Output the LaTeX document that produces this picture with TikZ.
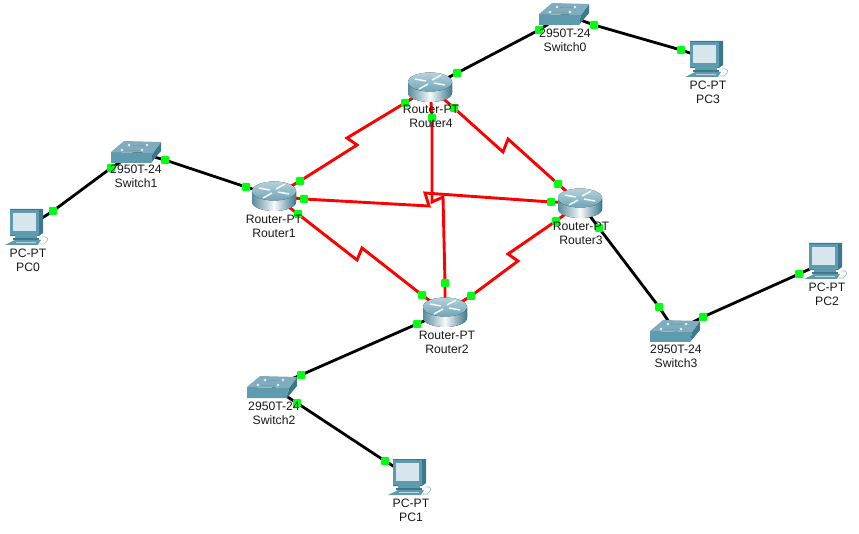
\documentclass[tikz,border=0pt]{standalone}
\usepackage{fontspec}
\setmainfont{Liberation Sans}
\usetikzlibrary{positioning, backgrounds}
\definecolor{portgreen}{RGB}{0,255,20}
\definecolor{tealdark}{RGB}{60,120,140}
\definecolor{tealmid}{RGB}{95,155,175}
\definecolor{teallight}{RGB}{150,190,205}
\definecolor{screenbg}{RGB}{215,230,236}
\tikzset{ 
	device/.style={inner sep=0, minimum size=0},
	port/.style={rectangle, rounded corners=1pt, inner sep=0, minimum size=8pt, fill=portgreen},
	wan/.style={draw=red, line width=2.9pt, line join=miter},
	lan/.style={draw=black, line width=2.8pt},
	title/.style={inner sep=0, font=\fontsize{12.2}{14}\selectfont, text=black!90, text height=9pt, text depth=2.5pt},
	router/.pic={
		\fill[left color=tealdark!85, right color=tealdark, middle color=white!95!tealmid]
			(-22,-5) -- (-22,6) arc[start angle=180, end angle=0, x radius=22, y radius=9] -- (22,-5) -- cycle;
		\fill[top color=teallight!70, bottom color=tealmid!90] (0,-5) ellipse[x radius=22, y radius=9.5];
		\draw[white!90!teallight, line width=1.5pt] (-15,-8) -- (-4,-6) (15,-2) -- (4,-4);
		\draw[white!90!teallight, line width=1.5pt] (11,-12) -- (2,-7) (-11,2) -- (-2,-3);
	},
	switch/.pic={
		\fill[tealmid] (-25,0) -- (17,1) -- (15,11) -- (-25,11) -- cycle;
		\fill[tealdark] (17,1) -- (25,-10) -- (25,-1) -- (15,11) -- cycle;
		\fill[teallight!75!tealdark] (-25,0) -- (-12,-11) -- (25,-10) -- (17,1) -- cycle;
		\fill[white!80!teallight] (-7,-7) circle[radius=1.3] (-14,-2) circle[radius=1.3] (11,-7) circle[radius=1.3] (6,-2) circle[radius=1.3];
		\draw[tealdark!70, line width=0.5pt] (-5,-7) -- (9,-7) (-12,-2) -- (4,-2);
	},
	pc/.pic={
		\fill[tealdark] (-18,-18) -- (15,-18) -- (15,6) -- (11,9) -- (-18,9) -- cycle;
		\fill[tealmid] (-18,-17) rectangle (11,8);
		\fill[screenbg] (-15,-14) rectangle (8,4);
		\fill[tealmid] (-13,8) rectangle (9,11);
		\fill[tealdark] (-15,11) rectangle (11,13);
		\fill[tealmid] (-13,13) -- (13,13) -- (10,18) -- (-23,18) -- cycle;
		\draw[white!60!tealmid, line width=0.5pt] (-12,15) -- (8,15);
		\draw[teallight, line width=0.7pt] (14,10) .. controls (18,9) and (21,11) .. (19,14) -- (16,17) -- (12,17);
	}
}
\begin{document}
\begin{tikzpicture}[x=1pt, y=-1pt]
	\useasboundingbox (0,0) rectangle (859,534);
	
	\node [device] (r1) at (274,196) {};
	\node [device] (r2) at (445,312) {};
	\node [device] (r3) at (580,203) {};
	\node [device] (r4) at (430,87) {};
	\node [device] (s0) at (564,14) {};
	\node [device] (s1) at (136,152) {};
	\node [device] (s2) at (272,387) {};
	\node [device] (s3) at (675,331) {};
	\node [device] (p0) at (28,227) {};
	\node [device] (p1) at (411,477) {};
	\node [device] (p2) at (827,261) {};
	\node [device] (p3) at (708,59) {};
	
	\pic at (r1) {router};
	\pic at (r2) {router};
	\pic at (r3) {router};
	\pic at (r4) {router};
	\pic at (s0) {switch};
	\pic at (s1) {switch};
	\pic at (s2) {switch};
	\pic at (s3) {switch};
	\pic at (p0) {pc};
	\pic at (p1) {pc};
	\pic at (p2) {pc};
	\pic at (p3) {pc};
	
	\node [port] (r4a) at (405,103) {};
	\node [port] (r1a) at (300,181) {};
	\node [port] (r1b) at (304,199) {};
	\node [port] (r3b) at (551,202) {};
	\node [port] (r4c) at (432,118) {};
	\node [port] (r2c) at (445,283) {};
	\node [port] (r1d) at (298,214) {};
	\node [port] (r2d) at (422,295) {};
	\node [port] (r3e) at (556,221) {};
	\node [port] (r2e) at (471,296) {};
	\node [port] (r4f) at (454,108) {};
	\node [port] (r3f) at (558,184) {};
	
	\node [port] (r4g) at (457,73) {};
	\node [port] (s0g) at (539,30) {};
	\node [port] (s0h) at (594,25) {};
	\node [port] (p3h) at (681,50) {};
	\node [port] (s1i) at (165,160) {};
	\node [port] (r1i) at (246,187) {};
	\node [port] (s1j) at (111,168) {};
	\node [port] (p0j) at (53,211) {};
	\node [port] (s2k) at (301,375) {};
	\node [port] (r2k) at (417,324) {};
	\node [port] (s2l) at (297,403) {};
	\node [port] (p1l) at (385,461) {};
	\node [port] (s3m) at (659,307) {};
	\node [port] (r3m) at (599,228) {};
	\node [port] (s3n) at (703,317) {};
	\node [port] (p2n) at (799,274) {};
	
	\coordinate (ja1) at (347,138);
	\coordinate (ja2) at (357,145);
	\coordinate (jb1) at (429,206);
	\coordinate (jb2) at (425,193);
	\coordinate (jc1) at (432,202);
	\coordinate (jc2) at (443,197);
	\coordinate (jd1) at (357,260);
	\coordinate (jd2) at (362,248);
	\coordinate (je1) at (518,261);
	\coordinate (je2) at (508,254);
	\coordinate (jf1) at (503,152);
	\coordinate (jf2) at (508,139);
	
	\begin{scope}[on background layer]
		\draw [wan] (r4) -- (r4a.center) -- (ja1) -- (ja2) -- (r1a.center) -- (r1);
		\draw [wan] (r1) -- (r1b.center) -- (jb1) -- (jb2) -- (r3b.center) -- (r3);
		\draw [wan] (r4) -- (r4c.center) -- (jc1) -- (jc2) -- (r2c.center) -- (r2);
		\draw [wan] (r1) -- (r1d.center) -- (jd1) -- (jd2) -- (r2d.center) -- (r2);
		\draw [wan] (r3) -- (r3e.center) -- (je2) -- (je1) -- (r2e.center) -- (r2);
		\draw [wan] (r4) -- (r4f.center) -- (jf1) -- (jf2) -- (r3f.center) -- (r3);
		
		\draw [lan] (r4) -- (r4g.center) -- (s0g.center) -- (s0);
		\draw [lan] (s0) -- (s0h.center) -- (p3h.center) -- (p3);
		\draw [lan] (s1) -- (s1i.center) -- (r1i.center) -- (r1);
		\draw [lan] (s1) -- (s1j.center) -- (p0j.center) -- (p0);
		\draw [lan] (s2) -- (s2k.center) -- (r2k.center) -- (r2);
		\draw [lan] (s2) -- (s2l.center) -- (p1l.center) -- (p1);
		\draw [lan] (s3) -- (s3m.center) -- (r3m.center) -- (r3);
		\draw [lan] (s3) -- (s3n.center) -- (p2n.center) -- (p2);
	\end{scope}
	
	\node [title, below = 18pt of r1] (r1t) {Router-PT};
	\node [title, below = 2.5pt of r1t] (r1n) {Router1};
	\node [title, below = 18pt of r2, xshift=2pt] (r2t) {Router-PT};
	\node [title, below = 2.5pt of r2t] (r2n) {Router2};
	\node [title, below = 18pt of r3, xshift=1pt] (r3t) {Router-PT};
	\node [title, below = 2.5pt of r3t] (r3n) {Router3};
	\node [title, below = 17pt of r4, xshift=1pt] (r4t) {Router-PT};
	\node [title, below = 2.5pt of r4t] (r4n) {Router4};
	
	\node [title, below = 14pt of s0, xshift=1pt] (s0t) {2950T-24};
	\node [title, below = 2.5pt of s0t] (s0n) {Switch0};
	\node [title, below = 12pt of s1] (s1t) {2950T-24};
	\node [title, below = 2.5pt of s1t] (s1n) {Switch1};
	\node [title, below = 14pt of s2, xshift=2pt] (s2t) {2950T-24};
	\node [title, below = 2.5pt of s2t] (s2n) {Switch2};
	\node [title, below = 13pt of s3, xshift=1pt] (s3t) {2950T-24};
	\node [title, below = 2.5pt of s3t] (s3n) {Switch3};
	
	\node [title, below = 21pt of p0] (p0t) {PC-PT};
	\node [title, below = 2.5pt of p0t] (p0n) {PC0};
	\node [title, below = 21pt of p1] (p1t) {PC-PT};
	\node [title, below = 2.5pt of p1t] (p1n) {PC1};
	\node [title, below = 21pt of p2] (p2t) {PC-PT};
	\node [title, below = 2.5pt of p2t] (p2n) {PC2};
	\node [title, below = 21pt of p3] (p3t) {PC-PT};
	\node [title, below = 2.5pt of p3t] (p3n) {PC3};
\end{tikzpicture}
\end{document}
